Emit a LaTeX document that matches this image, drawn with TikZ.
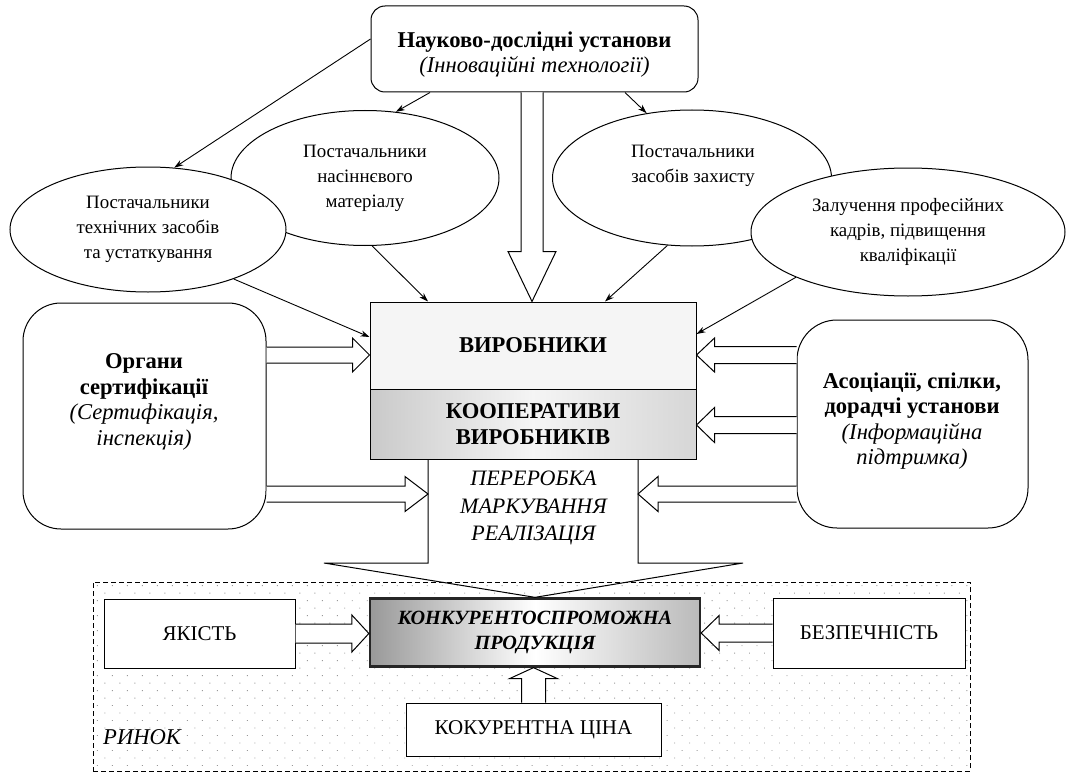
\documentclass[tikz,border=0pt]{standalone}
\usepackage{fontspec}
\setmainfont{Liberation Serif}
\usetikzlibrary{calc,arrows.meta,shapes.geometric,patterns.meta}

\newcommand\fsmall{\fontsize{18.9}{25}\selectfont}
\newcommand\fmid{\fontsize{21}{25}\selectfont}
\newcommand\fbig{\fontsize{22.6}{25.5}\selectfont}

% hollow block arrow: start, tip, shaft half width, head half width, head length
\newcommand\blockarrow[5]{%
  \coordinate (#1-#2-base) at ($(#2)!#5!(#1)$);
  \path[blk] ($(#1)!#3!90:(#2)$) -- ($(#1-#2-base)!#3!-90:(#1)$)
    -- ($(#1-#2-base)!#4!-90:(#1)$) -- (#2)
    -- ($(#1-#2-base)!#4!90:(#1)$) -- ($(#1-#2-base)!#3!90:(#1)$)
    -- ($(#1)!#3!-90:(#2)$);
}

\tikzset{
  ln/.style={line width=1pt},
  tarr/.style={line width=0.9pt, -{Stealth[length=9pt,width=6pt]}},
  blk/.style={draw, fill=white, line width=1pt, line join=miter},
  ell/.style={ellipse, draw, fill=white, line width=1pt, inner sep=0pt,
    align=center, font=\fsmall},
  plainbox/.style={draw, fill=white, line width=1pt, inner sep=0pt},
  txt/.style={align=center, inner sep=0pt},
}

\begin{document}
\begin{tikzpicture}[x=1pt, y=-1pt]
\useasboundingbox (0,0) rectangle (1068,773);

% market area
\node[draw, dashed, dash pattern=on 5pt off 3pt, line width=1pt,
  pattern={Dots[distance=10.6pt, angle=45, radius=0.65pt]}, pattern color=black!40,
  minimum width=877pt, minimum height=189pt, inner sep=0pt] (market) at (531.5,676.5) {};
\node[anchor=west, font=\fbig\itshape, inner sep=0pt] (rinok) at (103,737) {РИНОК};

% research institutions
\node[plainbox, rounded corners=14pt, minimum width=327pt, minimum height=86pt] (top) at (534.5,49) {};
\node[txt, font=\fbig] (toptxt) at (534.5,54.5)
  {\textbf{Науково-дослідні установи}\\\textit{(Інноваційні технології)}};

% suppliers
\node[ell, minimum width=268pt, minimum height=135pt] (B) at (365,178) {Постачальники\\насіннєвого\\матеріалу};
\node[ell, minimum width=276pt, minimum height=125pt] (A) at (148,229.5) {Постачальники\\технічних засобів\\та устаткування};
\node[ell, minimum width=279pt, minimum height=136pt] (C) at (692,178) {};
\node[txt, font=\fsmall] (Ctxt) at (693,166) {Постачальники\\засобів захисту};
\node[ell, minimum width=314pt, minimum height=128pt] (D) at (908,232) {Залучення професійних\\кадрів, підвищення\\кваліфікації};

% producers
\node[draw, fill=black!4, line width=1pt, minimum width=326pt, minimum height=87pt,
  font=\fbig\bfseries] (vir) at (533,345.5) {ВИРОБНИКИ};
\node[draw, line width=1pt, left color=black!21, right color=black!16, middle color=black!4,
  minimum width=326pt, minimum height=70pt, align=center, font=\fbig\bfseries] (koop) at (533,424)
  {КООПЕРАТИВИ\\ВИРОБНИКІВ};

% side bodies
\node[plainbox, rounded corners=38pt, minimum width=243pt, minimum height=226pt] (org) at (144.5,416) {};
\node[txt, font=\fbig] (orgtxt) at (144,402)
  {\textbf{Органи}\\\textbf{сертифікації}\\\textit{(Сертифікація,}\\\textit{інспекція)}};
\node[plainbox, rounded corners=40pt, minimum width=231pt, minimum height=208pt] (aso) at (912.5,424) {};
\node[txt, font=\fbig, align=center] (asotxt) at (912,421)
  {\textbf{Асоціації, спілки,}\\\textbf{дорадчі установи}\\\textit{(Інформаційна}\\\textit{підтримка)}};

% market boxes
\node[draw, line width=2.3pt, draw=black!85, left color=black!40, right color=black!27, middle color=white,
  minimum width=330pt, minimum height=68pt, align=center,
  font=\fontsize{20.2}{25}\selectfont\bfseries\itshape] (prod) at (535,632.5)
  {КОНКУРЕНТОСПРОМОЖНА\\ПРОДУКЦІЯ};
\node[plainbox, minimum width=191pt, minimum height=69pt, font=\fmid] (yak) at (199.5,633.5) {ЯКІСТЬ};
\node[plainbox, minimum width=192pt, minimum height=70pt, font=\fmid] (bez) at (869,633) {БЕЗПЕЧНІСТЬ};
\node[plainbox, minimum width=255pt, minimum height=53pt, font=\fmid] (tsina) at (533.5,729.5) {КОКУРЕНТНА ЦІНА};

% processing funnel
\coordinate (fl) at (koop.south -| 428,0);
\coordinate (fr) at (koop.south -| 638,0);
\draw[ln, line join=miter] (fl) -- (fl |- 0,563) -- (324,563) -- (prod.north);
\draw[ln, line join=miter] (fr) -- (fr |- 0,563) -- (743,563) -- (prod.north);
\node[txt, font=\fontsize{22}{27.5}\selectfont\itshape] (proc) at (533.5,508)
  {ПЕРЕРОБКА\\МАРКУВАННЯ\\РЕАЛІЗАЦІЯ};

% thin arrows
\draw[tarr] ([yshift=10pt]top.west) -- (A.67);
\draw[tarr] (top.south -| 430,0) -- (B.65);
\draw[tarr] (top.south -| 625,0) -- (C.125);
\draw[tarr] (A.-30) -- (vir.west |- 0,337);
\draw[tarr] (B.-84) -- (vir.north -| 428,0);
\draw[tarr] (C.-110) -- (vir.north -| 605,0);
\draw[tarr] (D.-158) -- (vir.east |- 0,334);

% block arrows
\coordinate (Ts) at (top.south -| 532,0);
\coordinate (Tt) at (vir.north -| 532,0);
\blockarrow{Ts}{Tt}{11pt}{24pt}{50pt}

\coordinate (L1s) at (org.east |- 0,355);
\coordinate (L1t) at (vir.west |- 0,355);
\blockarrow{L1s}{L1t}{8pt}{17pt}{17pt}
\coordinate (L2s) at (org.east |- 0,494);
\coordinate (L2t) at (fl |- 0,494);
\blockarrow{L2s}{L2t}{8pt}{17.5pt}{23pt}

\coordinate (R1s) at (aso.west |- 0,355);
\coordinate (R1t) at (vir.east |- 0,355);
\blockarrow{R1s}{R1t}{8.5pt}{17pt}{18pt}
\coordinate (R2s) at (aso.west |- 0,425);
\coordinate (R2t) at (koop.east |- 0,425);
\blockarrow{R2s}{R2t}{8.5pt}{17.5pt}{18pt}
\coordinate (R3s) at (aso.west |- 0,494);
\coordinate (R3t) at (fr |- 0,494);
\blockarrow{R3s}{R3t}{8pt}{17.5pt}{20pt}

\coordinate (Ys) at (yak.east);
\coordinate (Yt) at (prod.west |- yak.east);
\blockarrow{Ys}{Yt}{9.5pt}{18.5pt}{17pt}
\coordinate (Bs) at (bez.west);
\coordinate (Bt) at (prod.east |- bez.west);
\blockarrow{Bs}{Bt}{9pt}{17.5pt}{18pt}
\coordinate (Cs) at (tsina.north);
\coordinate (Ct) at (prod.south -| tsina.north);
\blockarrow{Cs}{Ct}{12pt}{24pt}{11pt}
\end{tikzpicture}
\end{document}
